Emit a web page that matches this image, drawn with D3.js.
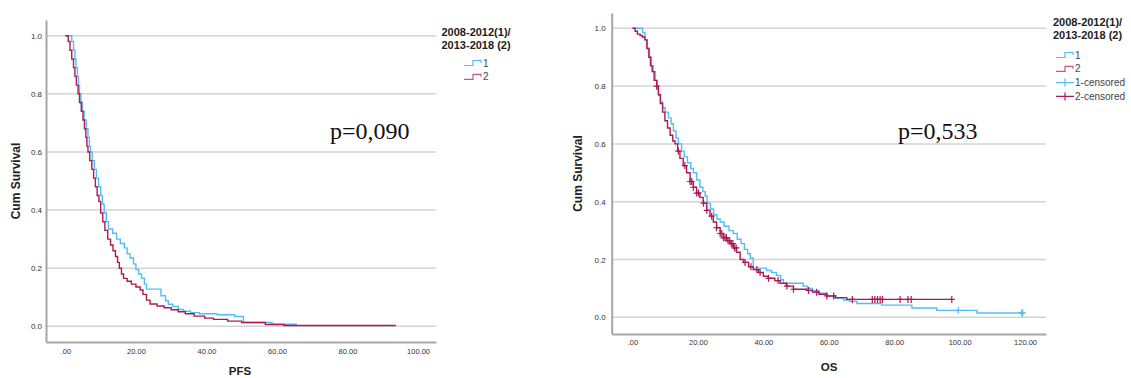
<!DOCTYPE html>
<html>
<head>
<meta charset="utf-8">
<script src="https://cdn.jsdelivr.net/npm/d3@7"></script>
<style>
  html, body { margin: 0; padding: 0; background: #fff; }
  svg { display: block; }
  .tick text { fill: #333; font-family: "Liberation Sans", Arial, sans-serif; }
</style>
</head>
<body>
<svg id="chart" width="1131" height="378"></svg>
<script>
// Kaplan-Meier steps: [time, cumulative survival]
const pfsGroup1 = [
  [0, 1.0], [1.8, 0.98], [2.3, 0.95], [2.7, 0.92], [3.0, 0.89], [3.4, 0.86], [3.7, 0.83],
  [4.0, 0.80], [4.4, 0.77], [4.8, 0.74], [5.3, 0.71], [5.9, 0.68], [6.4, 0.65], [6.8, 0.62],
  [7.1, 0.60], [7.6, 0.57], [8.2, 0.54], [8.8, 0.51], [9.4, 0.48], [10.0, 0.45], [10.5, 0.42],
  [11.0, 0.39], [11.6, 0.36], [12.2, 0.335], [13.4, 0.32], [14.5, 0.30], [15.6, 0.285],
  [16.7, 0.27], [17.5, 0.25], [18.3, 0.235], [19.3, 0.215], [20.0, 0.195], [20.8, 0.18],
  [21.6, 0.165], [22.4, 0.145], [23.0, 0.128], [27.1, 0.105], [28.4, 0.088], [29.2, 0.076],
  [30.5, 0.068], [32.0, 0.058], [33.5, 0.052], [35.5, 0.047], [38.0, 0.043], [43.0, 0.040],
  [48.0, 0.034], [50.5, 0.013], [58.6, 0.007], [65.5, 0.0]
];
const pfsGroup2 = [
  [0, 1.0], [0.8, 0.98], [1.3, 0.95], [1.8, 0.92], [2.3, 0.89], [2.7, 0.86], [3.1, 0.83],
  [3.6, 0.80], [4.0, 0.77], [4.5, 0.74], [5.0, 0.71], [5.4, 0.68], [5.8, 0.65], [6.1, 0.62],
  [6.4, 0.60], [6.9, 0.57], [7.5, 0.54], [8.0, 0.51], [8.5, 0.48], [9.0, 0.45], [9.5, 0.43],
  [10.0, 0.39], [10.6, 0.36], [11.2, 0.33], [12.0, 0.30], [12.8, 0.28], [13.5, 0.26],
  [14.2, 0.24], [14.8, 0.22], [15.3, 0.20], [15.9, 0.18], [16.5, 0.165], [17.5, 0.155],
  [18.7, 0.145], [20.0, 0.135], [21.2, 0.125], [22.0, 0.11], [23.0, 0.09], [24.0, 0.077],
  [26.0, 0.07], [28.0, 0.064], [30.0, 0.057], [32.0, 0.05], [34.0, 0.043], [36.5, 0.035],
  [39.5, 0.028], [42.0, 0.024], [46.0, 0.018], [50.0, 0.013], [56.7, 0.006], [62.0, 0.003],
  [93.7, 0.003]
];
const osGroup1 = [
  [0, 1.0], [3.1, 0.985], [3.8, 0.96], [4.5, 0.93], [5.2, 0.90], [5.8, 0.87], [6.4, 0.85],
  [7.0, 0.82], [7.5, 0.79], [8.0, 0.77], [8.6, 0.745], [9.2, 0.725], [10.0, 0.71], [11.0, 0.69],
  [11.8, 0.67], [12.5, 0.645], [13.3, 0.62], [14.0, 0.60], [15.0, 0.575], [15.8, 0.555],
  [16.8, 0.535], [17.8, 0.515], [18.6, 0.50], [19.6, 0.475], [20.6, 0.45], [21.5, 0.435],
  [22.2, 0.42], [22.8, 0.395], [23.8, 0.375], [24.8, 0.355], [25.8, 0.34], [26.8, 0.33],
  [28.0, 0.315], [29.5, 0.30], [30.8, 0.29], [32.0, 0.27], [33.2, 0.255], [34.2, 0.235],
  [35.2, 0.22], [36.0, 0.205], [36.9, 0.17], [41.0, 0.162], [42.5, 0.155], [44.0, 0.145],
  [45.3, 0.13], [46.1, 0.118], [52.2, 0.108], [53.5, 0.10], [55.0, 0.092], [57.0, 0.083],
  [59.4, 0.072], [62.0, 0.066], [64.5, 0.06], [66.5, 0.055], [68.6, 0.048], [76.2, 0.042],
  [85.4, 0.032], [93.0, 0.024], [105.3, 0.015], [119.3, 0.015]
];
const osGroup2 = [
  [0, 1.0], [0.8, 0.99], [1.5, 0.98], [2.3, 0.975], [3.0, 0.97], [3.8, 0.96], [4.4, 0.93],
  [5.0, 0.90], [5.5, 0.87], [6.0, 0.85], [6.6, 0.82], [7.4, 0.80], [7.9, 0.77], [8.5, 0.74],
  [9.2, 0.71], [9.9, 0.68], [10.7, 0.655], [11.5, 0.63], [12.3, 0.61], [13.0, 0.60],
  [13.8, 0.575], [14.5, 0.55], [15.5, 0.525], [16.5, 0.50], [17.6, 0.47], [18.6, 0.45],
  [19.6, 0.43], [20.6, 0.415], [21.6, 0.395], [22.7, 0.37], [23.7, 0.35], [24.7, 0.33],
  [25.7, 0.31], [26.8, 0.29], [27.8, 0.275], [28.8, 0.265], [29.8, 0.255], [30.8, 0.24],
  [31.8, 0.225], [32.9, 0.20], [34.0, 0.19], [35.5, 0.175], [36.9, 0.165], [38.5, 0.155],
  [40.0, 0.142], [41.5, 0.135], [43.5, 0.127], [45.1, 0.118], [47.0, 0.108], [49.2, 0.097],
  [53.3, 0.093], [55.0, 0.087], [57.0, 0.08], [59.4, 0.074], [62.0, 0.068], [65.5, 0.062],
  [97.6, 0.062]
];
// censored observation times
const osCensored1 = [99.6, 119.0, 119.3];
const osCensored2 = [
  7.4, 14.0, 16.0, 17.6, 18.1, 18.6, 19.6, 20.2, 21.7, 22.7, 24.2, 25.7, 26.8, 27.3, 27.8,
  28.3, 28.7, 29.2, 29.7, 30.2, 30.7, 31.2, 31.7, 34.4, 36.2, 38.0, 39.0, 41.6, 44.5, 47.2,
  49.2, 53.8, 56.3, 59.4, 61.5, 67.2, 73.3, 74.1, 74.9, 75.7, 76.4, 81.8, 84.2, 85.2, 97.6
];

const yTicks = [0, 0.2, 0.4, 0.6, 0.8, 1.0];
const pfsTicks = [0, 20, 40, 60, 80, 100];
const osTicks = [0, 20, 40, 60, 80, 100, 120];
const groupLabels = ["1", "2"];
const censorLabels = ["1-censored", "2-censored"];
const legendTitle = ["2008-2012(1)/", "2013-2018 (2)"];
const pValues = ["p=0,090", "p=0,533"];

const BLUE = "#52bdf6";
const RED = "#ad1a52";
const SANS = '"Liberation Sans", Arial, sans-serif';

const svg = d3.select("#chart");

function survivalAt(series, t) {
  let s = series[0][1];
  for (const p of series) { if (p[0] <= t) s = p[1]; else break; }
  return s;
}

function drawPanel(cfg) {
  const x = d3.scaleLinear().domain(cfg.xDomain).range(cfg.xRange);
  const y = d3.scaleLinear().domain(cfg.yDomain).range(cfg.yRange);
  const g = svg.append("g");

  // horizontal gridlines
  g.append("g").selectAll("line").data(yTicks).join("line")
    .attr("x1", cfg.xRange[0]).attr("x2", cfg.xRange[1])
    .attr("y1", d => y(d)).attr("y2", d => y(d))
    .attr("stroke", "#d4d4d4").attr("stroke-width", 1.5);

  // axes
  const ya = g.append("g").attr("transform", `translate(${cfg.xRange[0]},0)`)
    .call(d3.axisLeft(y).tickValues(yTicks).tickFormat(d3.format(".1f"))
      .tickSize(0).tickSizeOuter(0).tickPadding(cfg.yPad));
  ya.selectAll(".tick text").attr("font-size", 8);
  const xa = g.append("g").attr("transform", `translate(0,${cfg.yRange[0]})`)
    .call(d3.axisBottom(x).tickValues(cfg.xTicks)
      .tickFormat(d => d === 0 ? ".00" : d.toFixed(2))
      .tickSize(0).tickSizeOuter(0).tickPadding(cfg.xPad));
  xa.selectAll(".tick text").attr("font-size", 7.5);
  g.selectAll(".domain").attr("stroke", "#a6a6a6").attr("stroke-width", 2);

  // axis titles
  g.append("text")
    .attr("transform", `translate(${cfg.yTitleX},${(cfg.yRange[0] + cfg.yRange[1]) / 2}) rotate(-90)`)
    .attr("text-anchor", "middle").attr("font-family", SANS).attr("font-weight", "bold")
    .attr("font-size", 12).attr("fill", "#222").text("Cum Survival");
  g.append("text").attr("x", cfg.xTitle[0]).attr("y", cfg.xTitle[1])
    .attr("text-anchor", "middle").attr("font-family", SANS).attr("font-weight", "bold")
    .attr("font-size", 11.5).attr("fill", "#222").text(cfg.xLabel);

  // survival curves
  const line = d3.line().x(d => x(d[0])).y(d => y(d[1])).curve(d3.curveStepAfter);
  cfg.series.forEach((s, i) => {
    g.append("path").datum(s).attr("d", line).attr("fill", "none")
      .attr("stroke", [BLUE, RED][i]).attr("stroke-width", 1.4);
  });

  // censor marks
  (cfg.censored || []).forEach((times, i) => {
    const col = [BLUE, RED][i];
    const series = cfg.series[i];
    g.append("g").selectAll("path").data(times).join("path")
      .attr("d", t => {
        const cx = x(t), cy = y(survivalAt(series, t));
        return `M${cx - 3},${cy}H${cx + 3}M${cx},${cy - 3.5}V${cy + 3.5}`;
      })
      .attr("stroke", col).attr("stroke-width", 1.2).attr("fill", "none");
  });

  // p-value
  g.append("text").attr("x", cfg.pPos[0]).attr("y", cfg.pPos[1])
    .attr("font-family", '"Liberation Serif", "Times New Roman", serif')
    .attr("font-size", 24).attr("fill", "#111").text(cfg.pText);

  // legend
  const lg = g.append("g");
  legendTitle.forEach((t, i) => {
    lg.append("text").attr("x", cfg.legendX).attr("y", cfg.legendY + i * 13)
      .attr("font-family", SANS).attr("font-weight", "bold").attr("font-size", 11)
      .attr("fill", "#222").text(t);
  });
  const items = groupLabels.map((l, i) => ({ label: l, color: i ? "#c9577f" : BLUE, kind: "step" }));
  if (cfg.censored) censorLabels.forEach((l, i) => items.push({ label: l, color: [BLUE, RED][i], kind: "cross" }));
  items.forEach((it, i) => {
    const cy = cfg.itemY + i * 13.8;
    const sx = cfg.itemX;
    if (it.kind === "step") {
      lg.append("path")
        .attr("d", `M${sx},${cy + 2.5}H${sx + 9}V${cy - 2.5}H${sx + 17}V${cy}`)
        .attr("fill", "none").attr("stroke", it.color).attr("stroke-width", 1.2);
    } else {
      lg.append("path")
        .attr("d", `M${sx},${cy}H${sx + 18}M${sx + 9},${cy - 4}V${cy + 4}`)
        .attr("fill", "none").attr("stroke", it.color).attr("stroke-width", 1.2);
    }
    lg.append("text").attr("x", sx + 19).attr("y", cy + 3.5)
      .attr("font-family", SANS).attr("font-size", 10).attr("fill", "#444").text(it.label);
  });
}

drawPanel({
  xDomain: [-5.5, 105.1], xRange: [46, 436],
  yDomain: [-0.054, 1.054], yRange: [342, 20],
  xTicks: pfsTicks, yPad: 4, xPad: 7,
  yTitleX: 20, xTitle: [240, 375], xLabel: "PFS",
  series: [pfsGroup1, pfsGroup2],
  pPos: [330, 139], pText: pValues[0],
  legendX: 441.5, legendY: 36, itemX: 464, itemY: 63
});

drawPanel({
  xDomain: [-6.36, 126.4], xRange: [611.7, 1046],
  yDomain: [-0.0578, 1.053], yRange: [334, 13],
  xTicks: osTicks, yPad: 6, xPad: 6,
  yTitleX: 582, xTitle: [829, 371], xLabel: "OS",
  series: [osGroup1, osGroup2], censored: [osCensored1, osCensored2],
  pPos: [898, 139], pText: pValues[1],
  legendX: 1053, legendY: 26, itemX: 1056, itemY: 55
});
</script>
</body>
</html>
